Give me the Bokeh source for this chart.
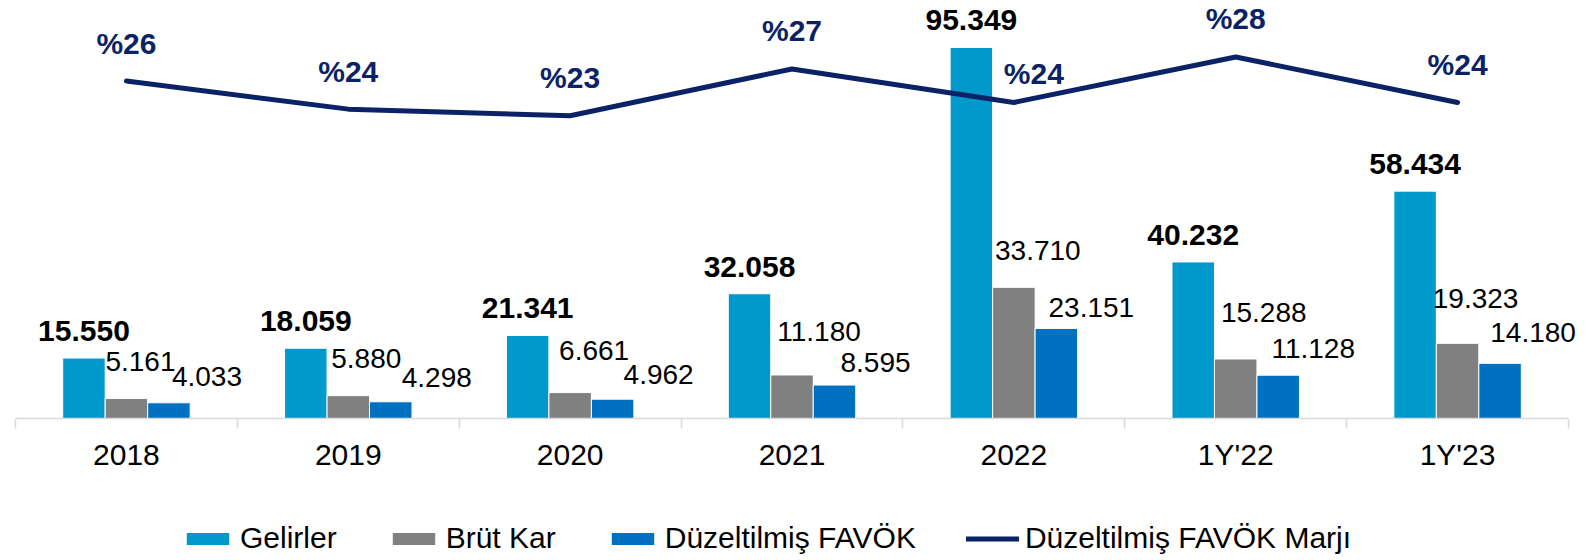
from bokeh.plotting import figure
from bokeh.layouts import column
from bokeh.models import (ColumnDataSource, Range1d, FixedTicker, Legend, LegendItem)
from bokeh.core.properties import value
from bokeh.embed import file_html
from bokeh.resources import INLINE

# ---------------- data ----------------
categories = ["2018", "2019", "2020", "2021", "2022", "1Y'22", "1Y'23"]
gelirler = [15550, 18059, 21341, 32058, 95349, 40232, 58434]
brut_kar = [5161, 5880, 6661, 11180, 33710, 15288, 19323]
favok = [4033, 4298, 4962, 8595, 23151, 11128, 14180]
favok_marji = [25.9, 23.8, 23.3, 26.8, 24.3, 27.7, 24.3]

# ---------------- styles ----------------
C_GEL = "#0099CC"
C_BRUT = "#808080"
C_FAV = "#0070C0"
C_LINE = "#0B2366"
FONT = "Liberation Sans"
# label nudges (screen px)
LINE_LABEL_DX = [0, 0, 0, 0, 20, 0, 0]
LINE_LABEL_DY = [-38, -38, -38, -38, -29, -38, -38]
BRUT_DX = [14, 18, 24, 27, 24, 28, 18]
BRUT_DY = [-37, -37, -42, -43, -37, -47, -45]
FAV_DX = [38, 46, 46, 41, 35, 35, 33]
FAV_DY = [-26, -24, -25, -23, -21, -27, -31]


def fmt(v):
    return f"{v:,}".replace(",", ".")


n = len(categories)
xc = [i + 0.5 for i in range(n)]
bw = 0.1915

src = ColumnDataSource(dict(
    xc=xc,
    x_gel=[x - bw for x in xc],
    x_brut=xc,
    x_fav=[x + bw for x in xc],
    gel=gelirler, brut=brut_kar, fav=favok, marj=favok_marji,
    gel_t=[fmt(v) for v in gelirler],
    brut_t=[fmt(v) for v in brut_kar],
    fav_t=[fmt(v) for v in favok],
    marj_t=["%" + str(int(round(v))) for v in favok_marji],
    ldx=LINE_LABEL_DX, ldy=LINE_LABEL_DY,
    bdx=BRUT_DX, bdy=BRUT_DY, fdx=FAV_DX, fdy=FAV_DY,
))

FW = 1565
p = figure(frame_width=FW, frame_height=410, output_backend="svg",
           toolbar_location=None,
           x_range=Range1d(0, n * FW / 1553), y_range=Range1d(0, 105370),
           y_axis_location=None, min_border_left=15, min_border_right=7,
           min_border_top=8, min_border_bottom=80)
p.extra_y_ranges = {"m": Range1d(0.68, 31.32)}
p.outline_line_color = None
p.grid.visible = False
p.background_fill_color = "white"

p.vbar(x="x_gel", top="gel", width=bw, source=src, fill_color=C_GEL,
       line_color="white", line_width=1)
p.vbar(x="x_brut", top="brut", width=bw, source=src, fill_color=C_BRUT,
       line_color="white", line_width=1)
p.vbar(x="x_fav", top="fav", width=bw, source=src, fill_color=C_FAV,
       line_color="white", line_width=1)
p.line(x="xc", y="marj", source=src, y_range_name="m", line_color=C_LINE,
       line_width=5, line_join="round", line_cap="round")

# value labels
p.text(x="x_gel", y="gel", text="gel_t", source=src, text_font=value(FONT),
       text_font_size="30px", text_font_style="bold", text_align="center",
       text_baseline="alphabetic", y_offset=-27, text_color="black")
p.text(x="x_brut", y="brut", text="brut_t", source=src, text_font=value(FONT),
       text_font_size="28px", text_align="center", text_baseline="alphabetic",
       x_offset="bdx", y_offset="bdy", text_color="black")
p.text(x="x_fav", y="fav", text="fav_t", source=src, text_font=value(FONT),
       text_font_size="28px", text_align="center", text_baseline="alphabetic",
       x_offset="fdx", y_offset="fdy", text_color="black")
p.text(x="xc", y="marj", text="marj_t", source=src, y_range_name="m",
       text_font=value(FONT), text_font_size="30px", text_font_style="bold",
       text_align="center", text_baseline="alphabetic", x_offset="ldx",
       y_offset="ldy", text_color=C_LINE)

# x axis
ax = p.xaxis[0]
ax.bounds = (0, n)
ax.ticker = FixedTicker(ticks=xc, minor_ticks=list(range(n + 1)))
ax.major_label_overrides = {x: c for x, c in zip(xc, categories)}
ax.axis_line_color = "#D9D9D9"
ax.axis_line_width = 1.5
ax.major_tick_line_color = None
ax.major_tick_out = 0
ax.major_tick_in = 0
ax.minor_tick_line_color = "#D9D9D9"
ax.minor_tick_line_width = 1.5
ax.minor_tick_out = 10
ax.minor_tick_in = 0
ax.major_label_standoff = 9
ax.major_label_text_font = FONT
ax.major_label_text_font_size = "30px"
ax.major_label_text_color = "black"

# ---------------- legend strip ----------------
q = figure(width=1587, height=62, output_backend="svg", toolbar_location=None,
           x_axis_location=None, y_axis_location=None, min_border=0,
           x_range=Range1d(0, 1), y_range=Range1d(0, 1))
q.outline_line_color = None
q.grid.visible = False
# legend proxies with zero extent (they draw nothing in the strip)
g1 = q.vbar(x=[0.5], top=[0], bottom=[0], width=0, fill_color=C_GEL, line_color=None)
g2 = q.vbar(x=[0.5], top=[0], bottom=[0], width=0, fill_color=C_BRUT, line_color=None)
g3 = q.vbar(x=[0.5], top=[0], bottom=[0], width=0, fill_color=C_FAV, line_color=None)
g4 = q.line(x=[0.5], y=[0.5], line_color=C_LINE, line_width=5, line_cap="round")

legend = Legend(items=[
    LegendItem(label="Gelirler", renderers=[g1]),
    LegendItem(label="Brüt Kar", renderers=[g2]),
    LegendItem(label="Düzeltilmiş FAVÖK", renderers=[g3]),
    LegendItem(label="Düzeltilmiş FAVÖK Marjı", renderers=[g4]),
], orientation="horizontal", glyph_width=53, glyph_height=15, label_standoff=6,
    spacing=50, label_text_font=FONT, label_text_font_size="30px",
    label_text_color="black", border_line_color=None, background_fill_alpha=0,
    padding=0, margin=0, location=(166, 5))
q.add_layout(legend, "center")

open("out.html", "w").write(file_html(column(p, q), INLINE))
